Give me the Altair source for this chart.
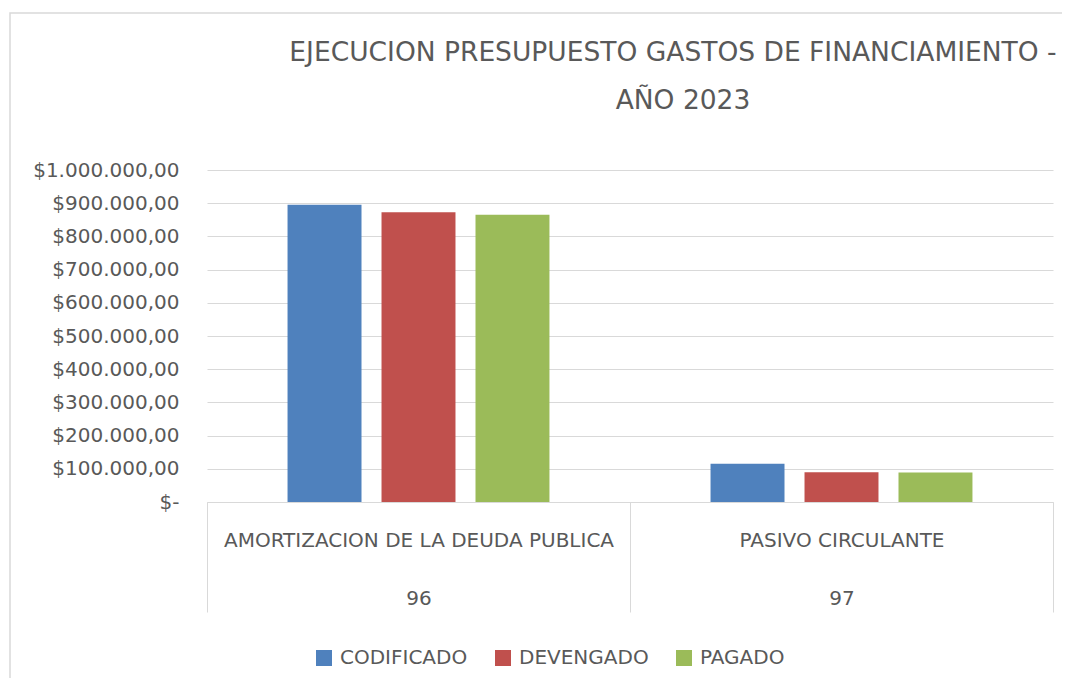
import altair as alt
import pandas as pd

categories = ["AMORTIZACION DE LA DEUDA PUBLICA", "PASIVO CIRCULANTE"]
codes = ["96", "97"]
series = ["CODIFICADO", "DEVENGADO", "PAGADO"]
codificado = [895000, 115000]
devengado = [873000, 89500]
pagado = [865000, 88500]
colors = ["#4F81BD", "#C0504D", "#9BBB59"]
y_ticks = [0, 100000, 200000, 300000, 400000, 500000, 600000, 700000, 800000, 900000, 1000000]
title_lines = ["EJECUCION PRESUPUESTO GASTOS DE FINANCIAMIENTO -", "AÑO 2023"]

FONT = "DejaVu Sans, Liberation Sans"
GREY = "#595959"
LINE = "#d9d9d9"

rows = []
for i, (c, k) in enumerate(zip(categories, codes)):
    for s, vals in zip(series, [codificado, devengado, pagado]):
        rows.append({"cat": c + "|" + k, "serie": s, "valor": vals[i]})
df = pd.DataFrame(rows)
cat_order = [c + "|" + k for c, k in zip(categories, codes)]

label_expr = (
    "datum.value == 0 ? '$-\u00a0\u00a0' : (datum.value >= 1000000 ? "
    "'$' + format(floor(datum.value/1000000),'d') + '.' + format(floor((datum.value % 1000000)/1000),'03d') + '.000,00' : "
    "'$' + format(datum.value/1000,'d') + '.000,00')"
)

bars = alt.Chart(df).mark_bar().encode(
    x=alt.X("cat:N", sort=cat_order,
            scale=alt.Scale(paddingInner=0, paddingOuter=0),
            axis=alt.Axis(title=None, labelAngle=0, labelExpr="split(datum.label, '|')",
                          labelFontSize=20, labelColor=GREY, labelFont=FONT,
                          labelLineHeight=58, labelPadding=-82, labelLimit=600,
                          tickBand="extent", ticks=True, tickSize=110, tickColor=LINE,
                          domain=True, domainColor=LINE)),
    xOffset=alt.XOffset("serie:N", sort=series,
                        scale=alt.Scale(paddingInner=0.213, paddingOuter=0.857)),
    y=alt.Y("valor:Q", scale=alt.Scale(domain=[0, 1000000], nice=False),
            axis=alt.Axis(title=None, values=y_ticks, labelExpr=label_expr,
                          labelFontSize=20, labelColor=GREY, labelFont=FONT,
                          labelPadding=28, domain=False, ticks=False,
                          grid=True, gridColor=LINE, gridWidth=1)),
    color=alt.Color("serie:N", sort=series,
                    scale=alt.Scale(domain=series, range=colors),
                    legend=alt.Legend(title=None, orient="none", legendX=107, legendY=478,
                                      direction="horizontal", symbolType="square",
                                      symbolSize=256, symbolStrokeWidth=0,
                                      labelFontSize=20, labelColor=GREY, labelFont=FONT,
                                      labelOffset=6, columnPadding=25, labelLimit=400)),
)

border = alt.Chart(pd.DataFrame({"k": [0]})).mark_rect(
    fill=None, stroke=LINE, strokeWidth=1.5
).encode(x=alt.value(-197), x2=alt.value(900), y=alt.value(-157), y2=alt.value(600))

title1 = alt.Chart(pd.DataFrame({"t": [title_lines[0]]})).mark_text(
    font=FONT, fontSize=26.5, color=GREY, align="center", baseline="middle"
).encode(text="t:N", x=alt.value(466), y=alt.value(-117))

title2 = alt.Chart(pd.DataFrame({"t": [title_lines[1]]})).mark_text(
    font=FONT, fontSize=26.5, color=GREY, align="center", baseline="middle"
).encode(text="t:N", x=alt.value(476), y=alt.value(-69))

chart = alt.layer(border, bars, title1, title2).properties(
    width=846, height=332,
    padding={"left": 199, "top": 162, "right": 9, "bottom": 176},
    autosize=alt.AutoSizeParams(type="none"),
).configure_view(stroke=None)

chart.save("out.html", embed_options={"renderer": "svg", "actions": False})
